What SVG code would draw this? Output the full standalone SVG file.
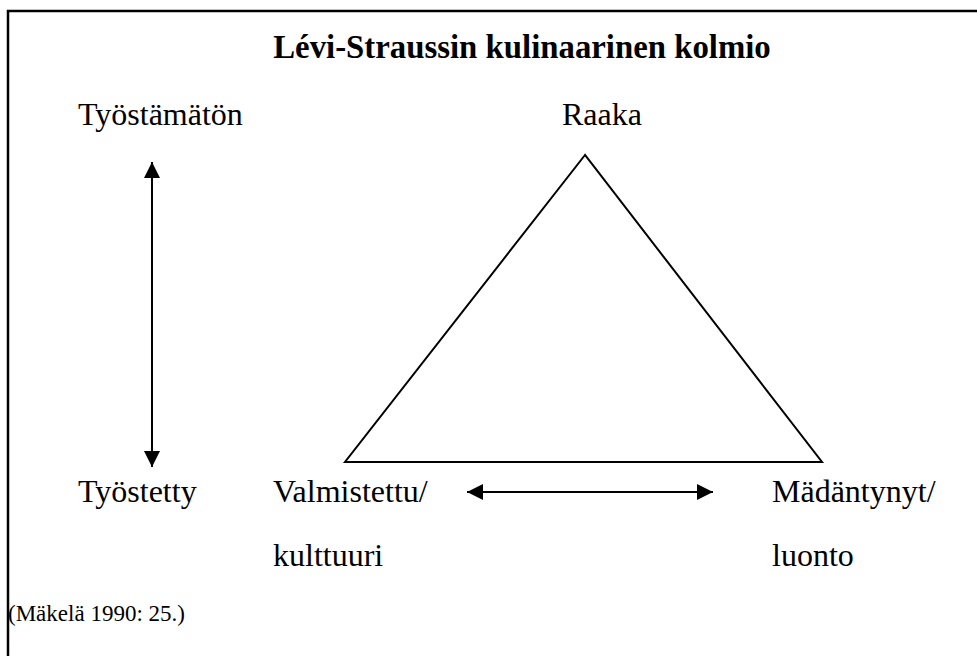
<svg xmlns="http://www.w3.org/2000/svg" width="977" height="656" viewBox="0 0 977 656">
<defs>
<style>
text{font-family:"Liberation Serif","Times New Roman",serif;fill:#000}
.lbl{font-size:32px}
.ttl{font-size:32.8px;font-weight:bold}
.src{font-size:23px}
.ln{stroke:#000;stroke-width:2;fill:none}
</style>
<marker id="ah" viewBox="0 0 16 16" refX="16" refY="8" markerWidth="16" markerHeight="16" markerUnits="userSpaceOnUse" orient="auto-start-reverse">
<path d="M0,0 L16,8 L0,16 Z" fill="#000"/>
</marker>
</defs>
<rect width="977" height="656" fill="#fff"/>
<path d="M8,680 L8,11 L990,11" stroke="#000" stroke-width="2.5" fill="none"/>
<g id="title"><text class="ttl" x="522" y="58" text-anchor="middle">Lévi-Straussin kulinaarinen kolmio</text></g>
<g id="tyostamaton"><text class="lbl" x="78" y="125">Työstämätön</text></g>
<g id="raaka"><text class="lbl" x="562" y="125">Raaka</text></g>
<g id="tyostetty"><text class="lbl" x="78" y="502">Työstetty</text></g>
<g id="valmistettu"><text class="lbl" x="273" y="502">Valmistettu/</text><text class="lbl" x="273" y="566">kulttuuri</text></g>
<g id="madantynyt"><text class="lbl" x="772" y="502">Mädäntynyt/</text><text class="lbl" x="772" y="566">luonto</text></g>
<g id="triangle"><polygon class="ln" points="585,155 345,462 822,462"/></g>
<g id="connectors">
<line class="ln" x1="152" y1="162" x2="152" y2="467" marker-start="url(#ah)" marker-end="url(#ah)"/>
<line class="ln" x1="467" y1="492" x2="713" y2="492" marker-start="url(#ah)" marker-end="url(#ah)"/>
</g>
<g id="source"><text class="src" x="8" y="621">(Mäkelä 1990: 25.)</text></g>
</svg>
